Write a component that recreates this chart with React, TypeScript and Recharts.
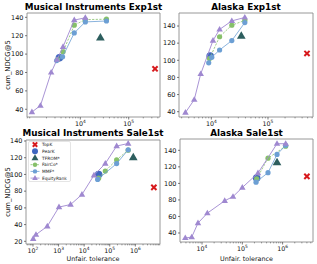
import React from 'react';
import { ScatterChart, Scatter, XAxis, YAxis, ReferenceArea, Legend, Label } from 'recharts';

const FONT = "'DejaVu Sans', Verdana, sans-serif";

type P = [number, number];

// ---------- data ----------
const seriesNames = ['TopK', 'PearK', 'TFROM*', 'FairCo*', 'MMF*', 'EquityRank'];
const panelTitles = ['Musical Instruments Exp1st', 'Alaska Exp1st', 'Musical Instruments Sale1st', 'Alaska Sale1st'];

// Musical Instruments Exp1st
const p1TopK: P[] = [[350000, 84]];
const p1PearK: P[] = [[3700, 96]];
const p1TFROM: P[] = [[26000, 118]];
const p1FairCo: P[] = [[3400, 94], [4400, 102.5], [7500, 131.5], [12700, 137.5], [34700, 138]];
const p1MMF: P[] = [[3240, 93], [4300, 97], [7500, 123], [12700, 135], [34700, 136]];
const p1Equity: P[] = [[1000, 37], [1500, 44], [2500, 80], [3300, 94], [4400, 108], [7500, 137], [12700, 139.5]];

// Alaska Exp1st
const p2TopK: P[] = [[487000, 108]];
const p2PearK: P[] = [[9550, 105]];
const p2TFROM: P[] = [[33800, 128.5]];
const p2FairCo: P[] = [[9300, 102], [14000, 127.5], [23000, 141], [39000, 146.5]];
const p2MMF: P[] = [[9000, 97], [10200, 103.5], [14000, 112], [23000, 123], [39000, 144]];
const p2Equity: P[] = [[3500, 39], [5000, 54], [6500, 84], [10700, 123], [14000, 136], [23000, 146], [39000, 150]];

// Musical Instruments Sale1st
const p3TopK: P[] = [[5300000, 84.5]];
const p3PearK: P[] = [[36800, 100]];
const p3TFROM: P[] = [[830000, 120.5]];
const p3FairCo: P[] = [[36800, 95.5], [67000, 104], [186000, 117.5], [525000, 129]];
const p3MMF: P[] = [[33600, 94], [186000, 113], [525000, 129.5]];
const p3Equity: P[] = [[102, 23], [131, 28], [363, 38], [1040, 61], [2950, 64], [8200, 76], [24200, 99], [67000, 113], [186000, 134], [525000, 137]];

// Alaska Sale1st
const p4TopK: P[] = [[4000000, 108.5]];
const p4PearK: P[] = [[227000, 106.5]];
const p4TFROM: P[] = [[726000, 125.5]];
const p4FairCo: P[] = [[227000, 105.5], [434000, 130.5], [1190000, 145]];
const p4MMF: P[] = [[219000, 101.5], [434000, 113], [726000, 135], [1190000, 146]];
const p4Equity: P[] = [[3850, 34], [5560, 35], [7950, 52], [13560, 64], [36600, 79], [58700, 84], [100000, 95], [245000, 112.5], [726000, 148], [1190000, 148]];

// tick values
const p1XMajor = [1e4, 1e5];
const p2XMajor = [1e4, 1e5];
const p3XMajor = [1e2, 1e3, 1e4, 1e5, 1e6];
const p4XMajor = [1e4, 1e5, 1e6];
const p1YTicks = [40, 60, 80, 100, 120, 140];
const p2YTicks = [40, 60, 80, 100, 120, 140];
const p3YTicks = [20, 40, 60, 80, 100, 120, 140];
const p4YTicks = [40, 60, 80, 100, 120, 140];

// ---------- styling ----------
const COL = {
  topk: '#d7191c',
  pear: '#3f67c0',
  tfrom: '#2d5e5e',
  fair: '#86c06a',
  mmf: '#6c9fd4',
  eq: '#9f88d0',
};
const FRAME = '#8c8c8c';

const toPts = (a: P[]) => a.map(([x, y]) => ({ x, y }));

function minorTicks(lo: number, hi: number) {
  const out: number[] = [];
  for (let e = Math.floor(Math.log10(lo)); e <= Math.ceil(Math.log10(hi)); e++) {
    for (let m = 2; m <= 9; m++) {
      const v = m * Math.pow(10, e);
      if (v > lo && v < hi) out.push(v);
    }
  }
  return out;
}

const LogTick = (props: any) => {
  const { x, y, payload } = props;
  const v = payload.value;
  const lg = Math.log10(v);
  const e = Math.round(lg);
  const major = Math.abs(lg - e) < 1e-6;
  return (
    <g>
      <line x1={x} x2={x} y1={y} y2={y + (major ? 2.5 : 1.4)} stroke="#444" strokeWidth={major ? 0.7 : 0.5} />
      {major && (
        <text x={x} y={y + 9} textAnchor="middle" fontSize={6.3} fontFamily={FONT} fill="#111">
          10<tspan fontSize={4.4} dy={-2.6}>{e}</tspan>
        </text>
      )}
    </g>
  );
};

const circleShape = (r: number, fill: string) => (p: any) => <circle cx={p.cx} cy={p.cy} r={r} fill={fill} />;
const triShape = (s: number, fill: string) => (p: any) => {
  const { cx, cy } = p;
  return <path d={`M${cx},${cy - s * 0.62}L${cx + s * 0.58},${cy + s * 0.38}L${cx - s * 0.58},${cy + s * 0.38}Z`} fill={fill} />;
};
const crossShape = (s: number, color: string) => (p: any) => {
  const { cx, cy } = p;
  return (
    <g stroke={color} strokeWidth={2}>
      <line x1={cx - s} y1={cy - s} x2={cx + s} y2={cy + s} />
      <line x1={cx - s} y1={cy + s} x2={cx + s} y2={cy - s} />
    </g>
  );
};

const LegendBox = () => {
  const items = [
    { name: seriesNames[0], kind: 'x', color: COL.topk },
    { name: seriesNames[1], kind: 'bigc', color: COL.pear },
    { name: seriesNames[2], kind: 'bigt', color: COL.tfrom },
    { name: seriesNames[3], kind: 'dash', color: COL.fair },
    { name: seriesNames[4], kind: 'line', color: COL.mmf },
    { name: seriesNames[5], kind: 'tri', color: COL.eq },
  ];
  return (
    <svg width={43} height={41} style={{ display: 'block' }}>
      <rect x={0.5} y={0.5} width={42} height={40} rx={1.5} fill="#fff" fillOpacity={0.85} stroke="#d4d4d4" strokeWidth={0.6} />
      {items.map((it, i) => {
        const cy = 3.6 + i * 6.7;
        const cx = 7;
        let mk: React.ReactNode = null;
        if (it.kind === 'x') mk = crossShape(2.2, it.color)({ cx, cy });
        if (it.kind === 'bigc') mk = <circle cx={cx} cy={cy} r={3} fill={it.color} />;
        if (it.kind === 'bigt') mk = triShape(6, it.color)({ cx, cy });
        if (it.kind === 'dash')
          mk = (
            <g>
              <line x1={2.5} x2={11.5} y1={cy} y2={cy} stroke={it.color} strokeWidth={0.8} strokeDasharray="2 1.2" />
              <circle cx={cx} cy={cy} r={2.2} fill={it.color} />
            </g>
          );
        if (it.kind === 'line')
          mk = (
            <g>
              <line x1={2.5} x2={11.5} y1={cy} y2={cy} stroke={it.color} strokeWidth={0.8} />
              <circle cx={cx} cy={cy} r={2.2} fill={it.color} />
            </g>
          );
        if (it.kind === 'tri')
          mk = (
            <g>
              <line x1={2.5} x2={11.5} y1={cy} y2={cy} stroke={it.color} strokeWidth={0.8} />
              {triShape(4.8, it.color)({ cx, cy })}
            </g>
          );
        return (
          <g key={it.name}>
            {mk}
            <text x={14} y={cy + 1.6} fontSize={4.4} fontFamily={FONT} fill="#222">{it.name}</text>
          </g>
        );
      })}
    </svg>
  );
};

type Cfg = {
  title: string;
  left: number;
  top: number;
  w: number;
  h: number;
  mt: number;
  mr: number;
  yw: number;
  xh: number;
  xd: [number, number];
  yd: [number, number];
  xMajor: number[];
  yTicks: number[];
  yLabel: boolean;
  xLabel: boolean;
  xLabelDy: number;
  legend: boolean;
  titleY: number;
  d: { topk: P[]; pear: P[]; tfrom: P[]; fair: P[]; mmf: P[]; eq: P[] };
};

const Panel = ({ c }: { c: Cfg }) => {
  const ticks = [...c.xMajor, ...minorTicks(c.xd[0], c.xd[1])].sort((a, b) => a - b);
  const plotLeft = c.left + c.yw;
  const plotW = c.w - c.yw - c.mr;
  return (
    <>
      <div
        style={{
          position: 'absolute',
          left: plotLeft - 40,
          width: plotW + 80,
          top: c.titleY - 6,
          height: 12,
          lineHeight: '12px',
          textAlign: 'center',
          fontFamily: FONT,
          fontWeight: 'bold',
          fontSize: 8.8,
          color: '#000',
          whiteSpace: 'nowrap',
        }}
      >
        {c.title}
      </div>
      <div style={{ position: 'absolute', left: c.left, top: c.top }}>
        <ScatterChart width={c.w} height={c.h} margin={{ top: c.mt, right: c.mr, bottom: 0, left: 0 }}>
          <XAxis
            xAxisId="b"
            dataKey="x"
            type="number"
            scale="log"
            domain={c.xd}
            allowDataOverflow
            ticks={ticks}
            interval={0}
            tick={(p: any) => <LogTick {...p} />}
            tickLine={false}
            tickSize={0}
            tickMargin={0}
            axisLine={false}
            height={c.xh}
            label={
              c.xLabel ? (
                <Label
                  content={(lp: any) => {
                    const vb = lp.viewBox || { x: 0, y: 0, width: 0 };
                    return (
                      <text x={vb.x + vb.width / 2} y={vb.y + c.xLabelDy} textAnchor="middle" fontSize={6.4} fontFamily={FONT} fill="#111">
                        Unfair. tolerance
                      </text>
                    );
                  }}
                />
              ) : undefined
            }
          />
          <YAxis
            yAxisId="l"
            dataKey="y"
            type="number"
            domain={c.yd}
            allowDataOverflow
            ticks={c.yTicks}
            interval={0}
            width={c.yw}
            tick={{ fontSize: 6.5, fill: '#111', fontFamily: FONT }}
            tickLine={{ stroke: '#444', strokeWidth: 0.7 }}
            tickSize={2}
            tickMargin={1.5}
            axisLine={false}
            label={
              c.yLabel ? (
                <Label
                  content={(lp: any) => {
                    const vb = lp.viewBox || { x: 0, y: 0, height: 0 };
                    const cy = vb.y + vb.height / 2;
                    return (
                      <text x={9.5} y={cy} transform={`rotate(-90, 9.5, ${cy})`} textAnchor="middle" fontSize={6.8} fontFamily={FONT} fill="#111">
                        cum_NDCG@5
                      </text>
                    );
                  }}
                />
              ) : undefined
            }
          />
          <ReferenceArea
            xAxisId="b"
            yAxisId="l"
            x1={c.xd[0]}
            x2={c.xd[1]}
            y1={c.yd[0]}
            y2={c.yd[1]}
            fill="none"
            fillOpacity={0}
            stroke={FRAME}
            strokeWidth={0.9}
            ifOverflow="visible"
          />
          <Scatter xAxisId="b" yAxisId="l" name="TopK" data={toPts(c.d.topk)} shape={crossShape(2.6, COL.topk)} isAnimationActive={false} />
          <Scatter xAxisId="b" yAxisId="l" name="PearK" data={toPts(c.d.pear)} shape={circleShape(3.8, COL.pear)} isAnimationActive={false} />
          <Scatter xAxisId="b" yAxisId="l" name="TFROM*" data={toPts(c.d.tfrom)} shape={triShape(7.5, COL.tfrom)} isAnimationActive={false} />
          <Scatter
            xAxisId="b"
            yAxisId="l"
            name="FairCo*"
            data={toPts(c.d.fair)}
            shape={circleShape(2.6, COL.fair)}
            line={{ stroke: COL.fair, strokeWidth: 0.8, strokeDasharray: '2.2 1.4' }}
            lineType="joint"
            isAnimationActive={false}
          />
          <Scatter
            xAxisId="b"
            yAxisId="l"
            name="MMF*"
            data={toPts(c.d.mmf)}
            shape={circleShape(2.6, COL.mmf)}
            line={{ stroke: COL.mmf, strokeWidth: 0.8 }}
            lineType="joint"
            isAnimationActive={false}
          />
          <Scatter
            xAxisId="b"
            yAxisId="l"
            name="EquityRank"
            data={toPts(c.d.eq)}
            shape={triShape(5.6, COL.eq)}
            line={{ stroke: COL.eq, strokeWidth: 0.9 }}
            lineType="joint"
            isAnimationActive={false}
          />
          {c.legend && (
            <Legend
              layout="vertical"
              align="center"
              verticalAlign="middle"
              wrapperStyle={{ left: 28, top: 13, width: 43, height: 41 }}
              content={() => <LegendBox />}
            />
          )}
        </ScatterChart>
      </div>
    </>
  );
};

const panels: Cfg[] = [
  {
    title: panelTitles[0], left: 0, top: 0, w: 163, h: 130, mt: 13, mr: 3, yw: 27, xh: 13,
    xd: [792, 443000], yd: [31.6, 144.7], xMajor: p1XMajor, yTicks: p1YTicks,
    yLabel: true, xLabel: false, xLabelDy: 0, legend: false, titleY: 6.5,
    d: { topk: p1TopK, pear: p1PearK, tfrom: p1TFROM, fair: p1FairCo, mmf: p1MMF, eq: p1Equity },
  },
  {
    title: panelTitles[1], left: 160, top: 0, w: 157, h: 130, mt: 13, mr: 4, yw: 19, xh: 13,
    xd: [2692, 622000], yd: [33.8, 155.2], xMajor: p2XMajor, yTicks: p2YTicks,
    yLabel: false, xLabel: false, xLabelDy: 0, legend: false, titleY: 6.5,
    d: { topk: p2TopK, pear: p2PearK, tfrom: p2TFROM, fair: p2FairCo, mmf: p2MMF, eq: p2Equity },
  },
  {
    title: panelTitles[2], left: 0, top: 128, w: 163, h: 136, mt: 12, mr: 3, yw: 26, xh: 20,
    xd: [53.4, 9.2e6], yd: [16.8, 141.2], xMajor: p3XMajor, yTicks: p3YTicks,
    yLabel: true, xLabel: true, xLabelDy: 16.5, legend: true, titleY: 133,
    d: { topk: p3TopK, pear: p3PearK, tfrom: p3TFROM, fair: p3FairCo, mmf: p3MMF, eq: p3Equity },
  },
  {
    title: panelTitles[3], left: 160, top: 128, w: 157, h: 136, mt: 11, mr: 4, yw: 20, xh: 22,
    xd: [2845, 5.67e6], yd: [29.1, 153.7], xMajor: p4XMajor, yTicks: p4YTicks,
    yLabel: false, xLabel: true, xLabelDy: 18.5, legend: false, titleY: 133,
    d: { topk: p4TopK, pear: p4PearK, tfrom: p4TFROM, fair: p4FairCo, mmf: p4MMF, eq: p4Equity },
  },
];

export default function App() {
  return (
    <div style={{ position: 'absolute', left: 0, top: 0, width: 317, height: 264, background: '#fff', overflow: 'hidden' }}>
      {panels.map((c) => (
        <Panel key={c.title} c={c} />
      ))}
    </div>
  );
}
